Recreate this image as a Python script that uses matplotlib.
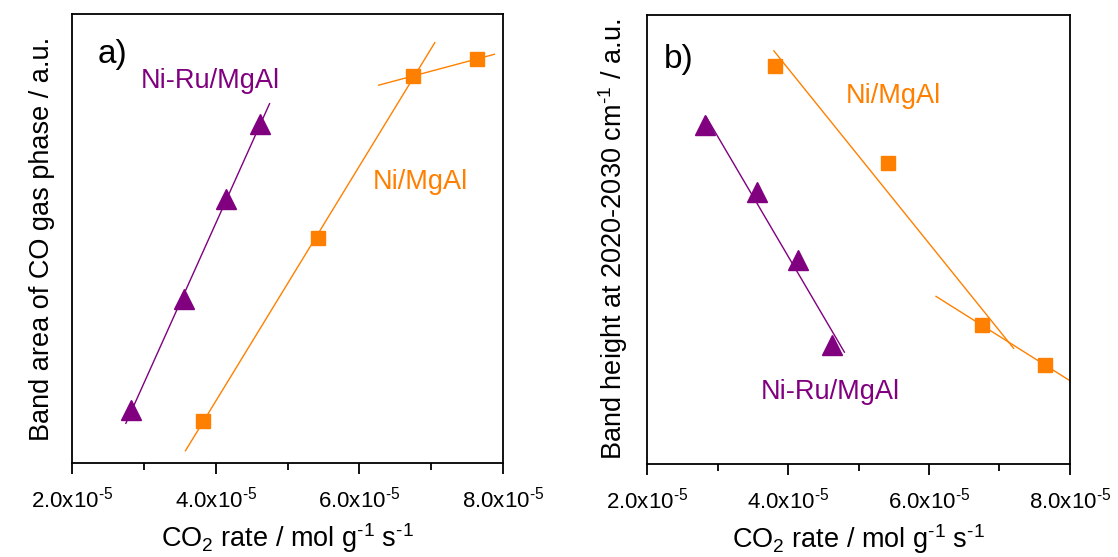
import numpy as np
import matplotlib
matplotlib.use("Agg")
import matplotlib.pyplot as plt
from matplotlib.ticker import FixedLocator, FuncFormatter

plt.rcParams['font.family'] = ['Liberation Sans', 'DejaVu Sans']
plt.rcParams['mathtext.fontset'] = 'custom'
plt.rcParams['mathtext.rm'] = 'Liberation Sans'
plt.rcParams['mathtext.it'] = 'Liberation Sans:italic'
plt.rcParams['mathtext.default'] = 'regular'

ORANGE = '#ff8000'
PURPLE = '#800080'

# CO2 rate (mol g-1 s-1) for both catalysts
rate_niru = [2.82e-5, 3.56e-5, 4.14e-5, 4.62e-5]
rate_ni = [3.82e-5, 5.42e-5, 6.75e-5, 7.64e-5]

# a) band area of CO in gas phase (a.u.)
area_niru = [11.8, 36.6, 58.9, 75.4]
area_ni = [9.4, 50.1, 86.2, 90.0]

# b) band height at 2020-2030 cm-1 (a.u.)
height_niru = [75.6, 60.6, 45.4, 26.6]
height_ni = [88.6, 67.1, 30.9, 22.1]

xticks = [2e-5, 4e-5, 6e-5, 8e-5]
xminor = [3e-5, 5e-5, 7e-5]


def fit_line(ax, x, y, xr, color):
    k, b = np.polyfit(x, y, 1)
    xs = np.array(xr)
    ax.plot(xs, k * xs + b, color=color, lw=1.0, zorder=2)


def style(ax, ylabel):
    ax.set_xlim(2e-5, 8e-5)
    ax.set_ylim(0, 100)
    ax.xaxis.set_major_locator(FixedLocator(xticks))
    ax.xaxis.set_minor_locator(FixedLocator(xminor))
    ax.xaxis.set_major_formatter(FuncFormatter(
        lambda v, p: '%.1fx10$^{\\text{-}5}$' % (v * 1e5)))
    ax.set_yticks([])
    ax.tick_params(axis='x', which='major', direction='out', length=8,
                   width=1.3, labelsize=16, pad=9)
    ax.tick_params(axis='x', which='minor', direction='out', length=5,
                   width=1.3)
    for s in ax.spines.values():
        s.set_linewidth(1.3)
    ax.set_xlabel('CO$_2$ rate / mol g$^{\\text{-}1}$ s$^{\\text{-}1}$',
                  fontsize=19.5, labelpad=6)
    ax.set_ylabel(ylabel, fontsize=19.5, labelpad=12)


fig = plt.figure(figsize=(11.18, 5.57), dpi=100)
ax1 = fig.add_axes([72 / 1118, 94 / 557, 431 / 1118, 449 / 557])
ax2 = fig.add_axes([647 / 1118, 93 / 557, 423 / 1118, 449 / 557])

# panel a
fit_line(ax1, rate_niru, area_niru, [2.75e-5, 4.75e-5], PURPLE)
fit_line(ax1, rate_ni[:3], area_ni[:3], [3.58e-5, 7.05e-5], ORANGE)
fit_line(ax1, rate_ni[2:], area_ni[2:], [6.27e-5, 7.88e-5], ORANGE)
ax1.plot(rate_niru, area_niru, '^', color=PURPLE, ms=14, zorder=3)
ax1.plot(rate_ni, area_ni, 's', color=ORANGE, ms=10.5, zorder=3)
ax1.text(0.06, 0.91, 'a)', transform=ax1.transAxes, fontsize=24,
         va='center', ha='left')
ax1.text(3.92e-5, 85, 'Ni-Ru/MgAl', color=PURPLE, fontsize=19.5,
         ha='center', va='center')
ax1.text(6.85e-5, 62.5, 'Ni/MgAl', color=ORANGE, fontsize=19.5,
         ha='center', va='center')
style(ax1, 'Band area of CO gas phase / a.u.')

# panel b
fit_line(ax2, rate_niru, height_niru, [2.84e-5, 4.8e-5], PURPLE)
fit_line(ax2, rate_ni[:3], height_ni[:3], [3.8e-5, 7.2e-5], ORANGE)
fit_line(ax2, rate_ni[2:], height_ni[2:], [6.1e-5, 8.0e-5], ORANGE)
ax2.plot(rate_niru, height_niru, '^', color=PURPLE, ms=14, zorder=3)
ax2.plot(rate_ni, height_ni, 's', color=ORANGE, ms=10.5, zorder=3)
ax2.text(0.04, 0.9, 'b)', transform=ax2.transAxes, fontsize=24,
         va='center', ha='left')
ax2.text(5.5e-5, 82, 'Ni/MgAl', color=ORANGE, fontsize=19.5,
         ha='center', va='center')
ax2.text(4.6e-5, 16, 'Ni-Ru/MgAl', color=PURPLE, fontsize=19.5,
         ha='center', va='center')
style(ax2, 'Band height at 2020-2030 cm$^{\\text{-}1}$ / a.u.')

fig.savefig('out.png', dpi=100)
